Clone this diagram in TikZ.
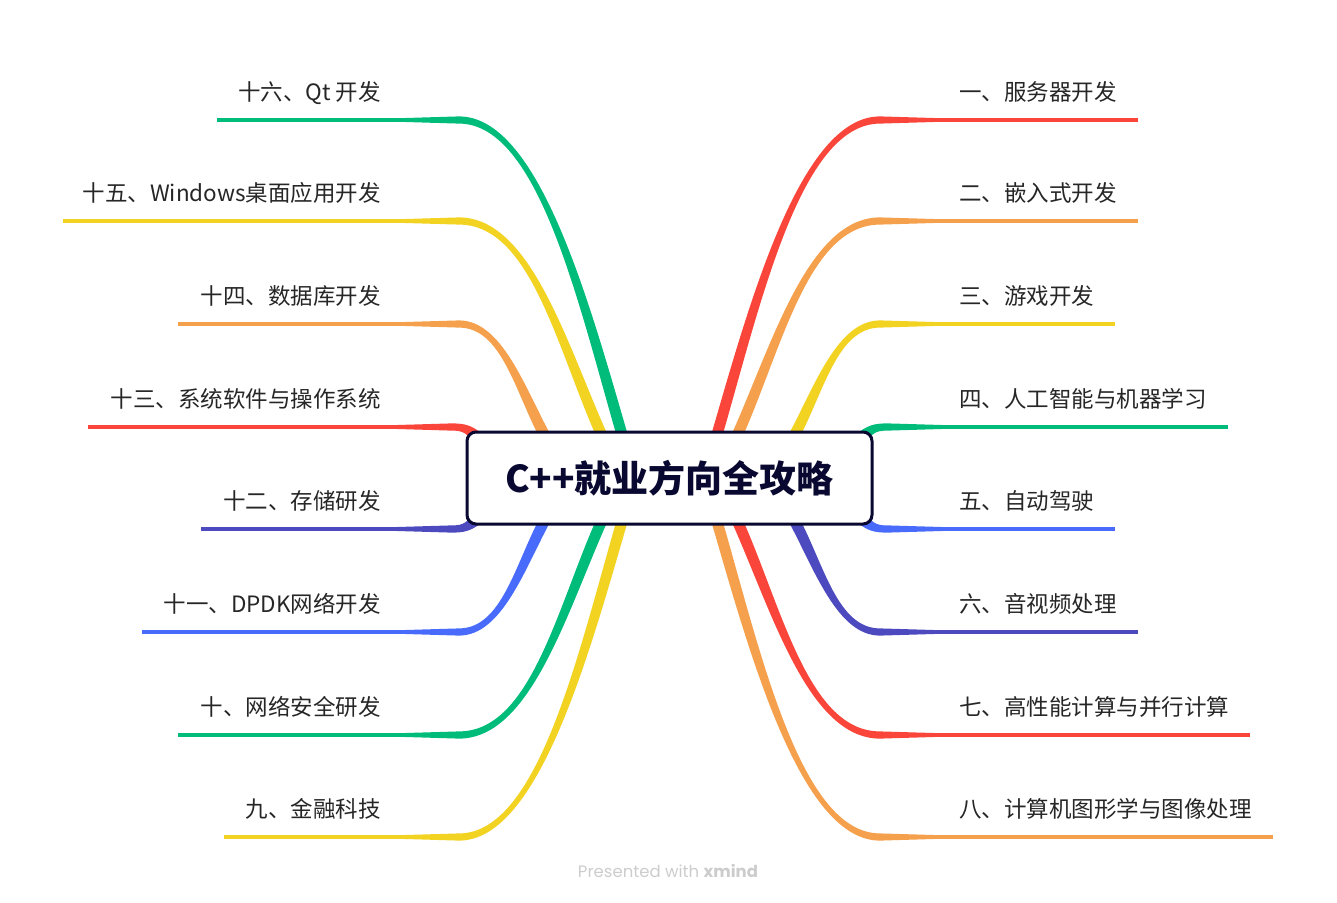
\documentclass[tikz,border=0pt]{standalone}
\usepackage{fontspec}
\setmainfont{Noto Sans CJK SC}
\newfontfamily\popfont{Poppins}
\usetikzlibrary{calc}
\definecolor{cred}{HTML}{FA453B}
\definecolor{corange}{HTML}{F5A04C}
\definecolor{cyellow}{HTML}{F2D321}
\definecolor{cgreen}{HTML}{00BC7B}
\definecolor{cblue}{HTML}{486BFB}
\definecolor{cindigo}{HTML}{4C4ABE}
\definecolor{cnavy}{HTML}{080830}
\newcommand{\tbranch}[9]{%
  \pgfmathsetmacro{\brDX}{#4-#2}%
  \pgfmathsetmacro{\brDY}{#5-#3}%
  \pgfmathsetmacro{\brA}{atan2(\brDY,\brDX)}%
  \pgfmathsetmacro{\brNX}{-sin(\brA)*5.5}%
  \pgfmathsetmacro{\brNY}{cos(\brA)*5.5}%
  \pgfmathsetmacro{\brS}{(#9>#7)?1:-1}%
  \pgfmathsetmacro{\brTX}{#7+\brS*57}%
  \pgfmathsetmacro{\brHa}{\brS*3.6}%
  \pgfmathsetmacro{\brHb}{\brS*1.9}%
  \fill[#1] ({#2+(\brNX)},{#3+(\brNY)}) .. controls ({#4+(\brNX)},{#5+(\brNY)}) and ({#6},{#8+(\brHa)}) .. ({#7},{#8+(\brHa)})
     -- ({\brTX},{#8+(\brHb)}) -- ({\brTX},{#8-(\brHb)}) -- ({#7},{#8-(\brHa)})
     .. controls ({#6},{#8-(\brHa)}) and ({#4-(\brNX)},{#5-(\brNY)}) .. ({#2-(\brNX)},{#3-(\brNY)}) -- cycle;
  \draw[#1,line width=3.3pt] ({\brTX-(\brS)},{#8}) -- ({#9},{#8});
}
\tikzset{
  lbl/.style={inner sep=0pt, text=black!85, font=\fontsize{22.5}{26}\selectfont},
  lblR/.style={lbl, anchor=base west},
  lblL/.style={lbl, anchor=base east},
  rootbox/.style={draw=cnavy, line width=3pt, rounded corners=9pt, fill=white,
    minimum width=405pt, minimum height=92pt, inner sep=0pt, text=cnavy,
    font=\fontsize{37}{40}\selectfont\bfseries},
}
\begin{document}
\begin{tikzpicture}[x=1pt,y=-1pt]
\useasboundingbox (0,0) rectangle (1337,902);
% right branches
\tbranch{cred}{716}{438}{755}{304}{800}{880}{120}{1138}
\tbranch{corange}{736}{438}{777}{347}{808}{880}{221}{1138}
\tbranch{cyellow}{793}{438}{819}{390}{837}{880}{324}{1115}
\tbranch{cgreen}{858}{440}{871}{429}{874}{888}{427}{1228}
\tbranch{cblue}{858}{516}{871}{527}{874}{888}{529}{1115}
\tbranch{cindigo}{793}{518}{819}{566}{837}{880}{632}{1138}
\tbranch{cred}{736}{518}{777}{609}{808}{880}{735}{1250}
\tbranch{corange}{716}{518}{755}{652}{800}{880}{837}{1273}
% left branches
\tbranch{cgreen}{623}{438}{584}{304}{539}{459}{120}{217}
\tbranch{cyellow}{603}{438}{562}{347}{531}{459}{221}{63}
\tbranch{corange}{546}{438}{520}{390}{502}{459}{324}{178}
\tbranch{cred}{481}{440}{468}{429}{465}{451}{427}{88}
\tbranch{cindigo}{481}{516}{468}{527}{465}{451}{529}{201}
\tbranch{cblue}{546}{518}{520}{566}{502}{459}{632}{142}
\tbranch{cgreen}{603}{518}{562}{609}{531}{459}{735}{178}
\tbranch{cyellow}{623}{518}{584}{652}{539}{459}{837}{224}
% central topic
\node[rootbox] (center) at (669.5,478) {C++就业方向全攻略};
% labels right
\node[lblR] (b1) at (959,100) {一、服务器开发};
\node[lblR] (b2) at (959,201) {二、嵌入式开发};
\node[lblR] (b3) at (959,304) {三、游戏开发};
\node[lblR] (b4) at (959,407) {四、人工智能与机器学习};
\node[lblR] (b5) at (959,509) {五、自动驾驶};
\node[lblR] (b6) at (959,612) {六、音视频处理};
\node[lblR] (b7) at (959,715) {七、高性能计算与并行计算};
\node[lblR] (b8) at (959,817) {八、计算机图形学与图像处理};
% labels left
\node[lblL] (b16) at (381,100) {十六、Qt 开发};
\node[lblL] (b15) at (381,201) {十五、Windows桌面应用开发};
\node[lblL] (b14) at (381,304) {十四、数据库开发};
\node[lblL] (b13) at (381,407) {十三、系统软件与操作系统};
\node[lblL] (b12) at (381,509) {十二、存储研发};
\node[lblL] (b11) at (381,612) {十一、DPDK网络开发};
\node[lblL] (b10) at (381,715) {十、网络安全研发};
\node[lblL] (b9) at (381,817) {九、金融科技};
% footer
\node[text=black!20, font=\popfont\fontsize{16.5}{18}\selectfont, inner sep=0pt] (foot) at (668,871) {Presented with \textbf{xmind}};
\end{tikzpicture}
\end{document}
